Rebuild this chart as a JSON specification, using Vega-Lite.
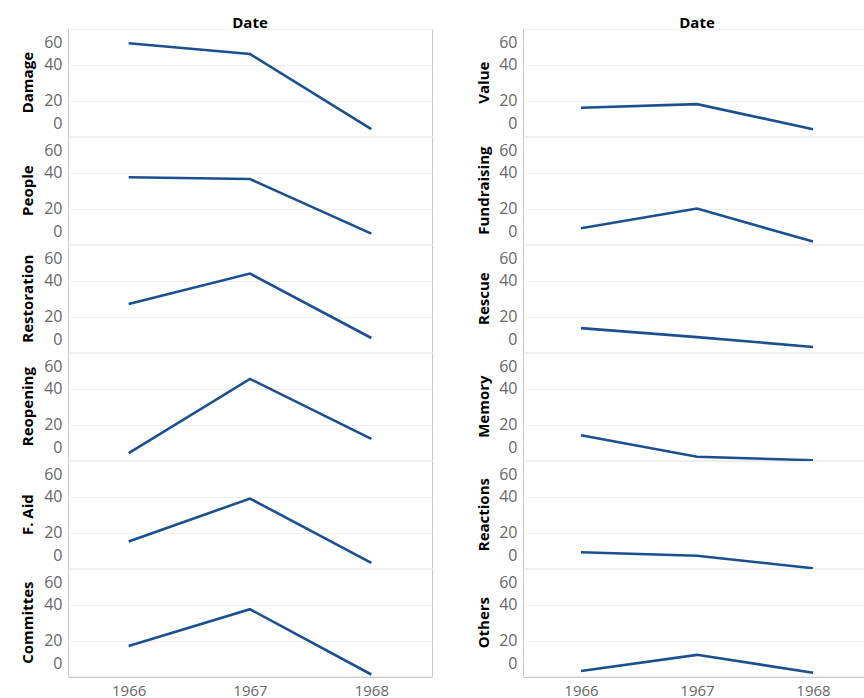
{
  "$schema": "https://vega.github.io/schema/vega-lite/v6.json",
  "padding": {"left": 20, "top": 16, "right": 0, "bottom": 0},
  "background": "white",
  "config": {
    "font": "Open Sans",
    "view": {"stroke": "#c8c8c8", "strokeWidth": 1},
    "concat": {"spacing": 43},
    "axisX": {"labelFontSize": 15, "labelColor": "#666666", "labelAngle": 0, "ticks": false, "domainColor": "#c8c8c8", "grid": false, "title": null, "labelPadding": 6},
    "axisY": {"labelFontSize": 16, "labelColor": "#666666", "ticks": false, "domain": false, "gridColor": "#efefef", "title": null, "labelPadding": 6, "labelFlush": true, "labelFlushOffset": -5, "minExtent": 0},
    "header": {"labelFontSize": 15, "labelFontWeight": "bold", "labelColor": "#000000", "title": null}
  },
  "datasets": {
    "left": [
      {"c": "Damage", "h": "Date", "yr": "1966", "v": 52},
      {"c": "Damage", "h": "Date", "yr": "1967", "v": 46},
      {"c": "Damage", "h": "Date", "yr": "1968", "v": 4},
      {"c": "People", "h": "Date", "yr": "1966", "v": 37.5},
      {"c": "People", "h": "Date", "yr": "1967", "v": 36.5},
      {"c": "People", "h": "Date", "yr": "1968", "v": 6},
      {"c": "Restoration", "h": "Date", "yr": "1966", "v": 27},
      {"c": "Restoration", "h": "Date", "yr": "1967", "v": 44},
      {"c": "Restoration", "h": "Date", "yr": "1968", "v": 8},
      {"c": "Reopening", "h": "Date", "yr": "1966", "v": 4},
      {"c": "Reopening", "h": "Date", "yr": "1967", "v": 45.5},
      {"c": "Reopening", "h": "Date", "yr": "1968", "v": 12},
      {"c": "F. Aid", "h": "Date", "yr": "1966", "v": 15},
      {"c": "F. Aid", "h": "Date", "yr": "1967", "v": 39},
      {"c": "F. Aid", "h": "Date", "yr": "1968", "v": 3},
      {"c": "Committes", "h": "Date", "yr": "1966", "v": 17},
      {"c": "Committes", "h": "Date", "yr": "1967", "v": 37.5},
      {"c": "Committes", "h": "Date", "yr": "1968", "v": 1}
    ],
    "right": [
      {"c": "Value", "h": "Date", "yr": "1966", "v": 16},
      {"c": "Value", "h": "Date", "yr": "1967", "v": 18},
      {"c": "Value", "h": "Date", "yr": "1968", "v": 4},
      {"c": "Fundraising", "h": "Date", "yr": "1966", "v": 9},
      {"c": "Fundraising", "h": "Date", "yr": "1967", "v": 20},
      {"c": "Fundraising", "h": "Date", "yr": "1968", "v": 1.5},
      {"c": "Rescue", "h": "Date", "yr": "1966", "v": 13.5},
      {"c": "Rescue", "h": "Date", "yr": "1967", "v": 8.5},
      {"c": "Rescue", "h": "Date", "yr": "1968", "v": 3},
      {"c": "Memory", "h": "Date", "yr": "1966", "v": 14},
      {"c": "Memory", "h": "Date", "yr": "1967", "v": 2},
      {"c": "Memory", "h": "Date", "yr": "1968", "v": 0},
      {"c": "Reactions", "h": "Date", "yr": "1966", "v": 9},
      {"c": "Reactions", "h": "Date", "yr": "1967", "v": 7},
      {"c": "Reactions", "h": "Date", "yr": "1968", "v": 0},
      {"c": "Others", "h": "Date", "yr": "1966", "v": 3},
      {"c": "Others", "h": "Date", "yr": "1967", "v": 12},
      {"c": "Others", "h": "Date", "yr": "1968", "v": 2}
    ]
  },
  "hconcat": [
    {
      "data": {"name": "left"},
      "spacing": {"row": 0, "column": 0},
      "bounds": "flush",
      "facet": {
        "row": {"field": "c", "type": "nominal", "sort": ["Damage", "People", "Restoration", "Reopening", "F. Aid", "Committes"], "header": {"title": null, "labelAngle": -90, "labelOrient": "left", "labelPadding": 1}},
        "column": {"field": "h", "type": "nominal", "header": {"title": null, "labelPadding": -2}}
      },
      "spec": {
        "width": 364,
        "height": 107.3,
        "mark": {"type": "line", "color": "#1b4f8f", "strokeWidth": 2.6},
        "encoding": {
          "x": {"field": "yr", "type": "ordinal"},
          "y": {"field": "v", "type": "quantitative", "scale": {"domain": [0, 60], "nice": false}, "axis": {"values": [0, 20, 40, 60]}}
        }
      }
    },
    {
      "data": {"name": "right"},
      "spacing": {"row": 0, "column": 0},
      "bounds": "flush",
      "facet": {
        "row": {"field": "c", "type": "nominal", "sort": ["Value", "Fundraising", "Rescue", "Memory", "Reactions", "Others"], "header": {"title": null, "labelAngle": -90, "labelOrient": "left", "labelPadding": 0}},
        "column": {"field": "h", "type": "nominal", "header": {"title": null, "labelPadding": -2}}
      },
      "spec": {
        "width": 348,
        "height": 107.3,
        "mark": {"type": "line", "color": "#1b4f8f", "strokeWidth": 2.6},
        "encoding": {
          "x": {"field": "yr", "type": "ordinal"},
          "y": {"field": "v", "type": "quantitative", "scale": {"domain": [0, 60], "nice": false}, "axis": {"values": [0, 20, 40, 60]}}
        }
      }
    }
  ]
}
